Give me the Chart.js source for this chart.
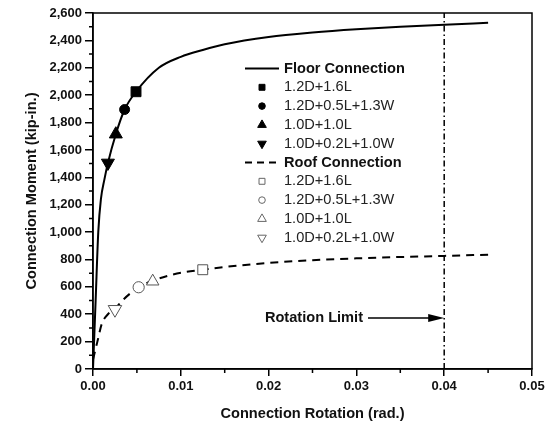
<!DOCTYPE html>
<html>
<head>
<meta charset="utf-8">
<script src="https://cdn.jsdelivr.net/npm/chart.js@4.4.0/dist/chart.umd.min.js"></script>
<style>
  html, body { margin: 0; padding: 0; background: #fff; }
  #wrap { width: 553px; height: 424px; }
</style>
</head>
<body>
<div id="wrap"><canvas id="canvas" width="553" height="424"></canvas></div>
<script>
// curves (rotation in rad., moment in kip-in.)
var floorRot = [0, 0.0003, 0.0006, 0.0009, 0.0013, 0.0017, 0.0026, 0.0036, 0.0049, 0.0075, 0.01, 0.0125, 0.015, 0.02, 0.025, 0.03, 0.035, 0.04, 0.045];
var floorMom = [0, 500, 1000, 1240, 1385, 1505, 1715, 1895, 2025, 2200, 2280, 2330, 2372, 2425, 2458, 2482, 2500, 2515, 2528];
var roofRot = [0, 0.0005, 0.001, 0.0017, 0.0025, 0.0035, 0.0052, 0.0068, 0.0085, 0.0105, 0.0125, 0.015, 0.02, 0.025, 0.03, 0.035, 0.04, 0.045];
var roofMom = [70, 200, 330, 400, 440, 510, 597, 645, 680, 708, 725, 745, 775, 795, 808, 818, 826, 835];

// load combinations (same order for floor and roof)
var comboLabels = ['1.2D+1.6L', '1.2D+0.5L+1.3W', '1.0D+1.0L', '1.0D+0.2L+1.0W'];
var floorPtRot = [0.0049, 0.0036, 0.0026, 0.0017];
var floorPtMom = [2025, 1895, 1715, 1505];
var roofPtRot = [0.0125, 0.0052, 0.0068, 0.0025];
var roofPtMom = [725, 597, 640, 435];

// rotation limit
var limitRot = [0.04, 0.04];
var limitMom = [0, 2600];
var arrowMom = 372;

var xTicks = [0, 0.01, 0.02, 0.03, 0.04, 0.05];
var yTicks = [0, 200, 400, 600, 800, 1000, 1200, 1400, 1600, 1800, 2000, 2200, 2400, 2600];

var FONT = '"Liberation Sans", Arial, sans-serif';
var markStyle = ['rect', 'circle', 'triangle', 'triangle'];
var markRot = [0, 0, 0, 180];
var floorRad = [7, 5, 7.5, 7.5];
var roofRad = [7, 5.6, 7.2, 7.8];
var legRad = [4.2, 3.3, 5, 5];

function pts(xs, ys) {
	return xs.map(function(x, i) { return { x: x, y: ys[i] }; });
}

var datasets = [
	{
		label: 'Floor Connection',
		data: pts(floorRot, floorMom),
		order: 3,
		showLine: true,
		borderColor: '#000',
		borderWidth: 2,
		pointRadius: 0,
		cubicInterpolationMode: 'monotone'
	},
	{
		label: 'Roof Connection',
		data: pts(roofRot, roofMom),
		order: 3,
		showLine: true,
		borderColor: '#000',
		borderWidth: 2,
		borderDash: [8, 6],
		pointRadius: 0,
		cubicInterpolationMode: 'monotone'
	},
	{
		label: 'Rotation Limit',
		data: pts(limitRot, limitMom),
		order: 2,
		showLine: true,
		borderColor: '#000',
		borderWidth: 1.5,
		borderDash: [6, 3, 1.5, 3],
		pointRadius: 0
	}
];

comboLabels.forEach(function(lab, i) {
	datasets.push({
		label: 'Floor ' + lab,
		data: [{ x: floorPtRot[i], y: floorPtMom[i] }],
		order: 1,
		pointStyle: markStyle[i],
		rotation: markRot[i],
		pointRadius: floorRad[i],
		backgroundColor: '#000',
		borderColor: '#000',
		borderWidth: 1
	});
	datasets.push({
		label: 'Roof ' + lab,
		data: [{ x: roofPtRot[i], y: roofPtMom[i] }],
		order: 1,
		pointStyle: markStyle[i],
		rotation: markRot[i],
		pointRadius: roofRad[i],
		backgroundColor: '#fff',
		borderColor: '#555',
		borderWidth: 1
	});
});

// box, minor ticks, legend and the arrow
var decor = {
	id: 'decor',
	afterDraw: function(chart) {
		var ctx = chart.ctx, a = chart.chartArea;
		var xs = chart.scales.x, ys = chart.scales.y;
		ctx.save();
		ctx.strokeStyle = '#000';
		ctx.lineWidth = 1.5;
		ctx.strokeRect(a.left, a.top, a.right - a.left, a.bottom - a.top);

		// minor ticks
		ctx.beginPath();
		for (var v = 100; v < 2600; v += 200) {
			var py = ys.getPixelForValue(v);
			ctx.moveTo(a.left - 4, py);
			ctx.lineTo(a.left, py);
		}
		for (var k = 0; k < 5; k++) {
			var px = xs.getPixelForValue(0.005 + k * 0.01);
			ctx.moveTo(px, a.bottom);
			ctx.lineTo(px, a.bottom + 4);
		}
		ctx.stroke();

		// legend
		var lx0 = 245, lx1 = 279, mx = 262, tx = 284, y0 = 68.5, rh = 18.8;
		ctx.textBaseline = 'middle';
		ctx.textAlign = 'left';
		ctx.fillStyle = '#111';
		ctx.lineWidth = 2;
		ctx.beginPath();
		ctx.moveTo(lx0, y0);
		ctx.lineTo(lx1, y0);
		ctx.stroke();
		ctx.font = 'bold 14.6px ' + FONT;
		ctx.fillText('Floor Connection', tx, y0);
		var yr = y0 + 5 * rh;
		ctx.setLineDash([7, 5]);
		ctx.beginPath();
		ctx.moveTo(lx0, yr);
		ctx.lineTo(lx1, yr);
		ctx.stroke();
		ctx.setLineDash([]);
		ctx.fillText('Roof Connection', tx, yr);

		ctx.font = '14.6px ' + FONT;
		comboLabels.forEach(function(lab, i) {
			var yf = y0 + (i + 1) * rh;
			ctx.fillStyle = '#000';
			ctx.strokeStyle = '#000';
			ctx.lineWidth = 1;
			Chart.helpers.drawPoint(ctx, { pointStyle: markStyle[i], rotation: markRot[i], radius: legRad[i], borderWidth: 1 }, mx, yf);
			ctx.fillStyle = '#222';
			ctx.fillText(lab, tx, yf);
			var yb = yr + (i + 1) * rh;
			ctx.fillStyle = '#fff';
			ctx.strokeStyle = '#666';
			Chart.helpers.drawPoint(ctx, { pointStyle: markStyle[i], rotation: markRot[i], radius: legRad[i], borderWidth: 1 }, mx, yb);
			ctx.fillStyle = '#222';
			ctx.fillText(lab, tx, yb);
		});

		// rotation limit arrow
		var tipX = xs.getPixelForValue(limitRot[0]);
		var ay = ys.getPixelForValue(arrowMom);
		ctx.strokeStyle = '#000';
		ctx.fillStyle = '#000';
		ctx.lineWidth = 1.5;
		ctx.beginPath();
		ctx.moveTo(368, ay);
		ctx.lineTo(tipX - 14, ay);
		ctx.stroke();
		ctx.beginPath();
		ctx.moveTo(tipX, ay);
		ctx.lineTo(tipX - 16, ay - 4);
		ctx.lineTo(tipX - 16, ay + 4);
		ctx.closePath();
		ctx.fill();
		ctx.font = 'bold 14.6px ' + FONT;
		ctx.textAlign = 'right';
		ctx.fillStyle = '#111';
		ctx.fillText('Rotation Limit', 363, ay);
		ctx.restore();
	}
};

var ctx = document.getElementById('canvas').getContext('2d');
window.myChart = new Chart(ctx, {
	type: 'scatter',
	data: { datasets: datasets },
	plugins: [decor],
	options: {
		responsive: false,
		animation: false,
		layout: { padding: { top: 13, right: 21, left: 0, bottom: 0 } },
		plugins: {
			legend: { display: false },
			tooltip: { enabled: false }
		},
		scales: {
			x: {
				type: 'linear',
				min: 0,
				max: 0.05,
				afterBuildTicks: function(s) { s.ticks = xTicks.map(function(v) { return { value: v }; }); },
				afterFit: function(s) { s.height = 55; },
				grid: { drawOnChartArea: false, color: '#000', lineWidth: 1.5, tickLength: 7 },
				border: { color: '#000', width: 1.5 },
				ticks: {
					color: '#111',
					padding: 3,
					maxRotation: 0,
					font: { family: FONT, size: 13, weight: 'bold' },
					callback: function(v) { return v.toFixed(2); }
				},
				title: {
					display: true,
					text: 'Connection Rotation (rad.)',
					color: '#111',
					padding: { top: 0, bottom: 1 },
					font: { family: FONT, size: 14.6, weight: 'bold' }
				}
			},
			y: {
				type: 'linear',
				min: 0,
				max: 2600,
				afterBuildTicks: function(s) { s.ticks = yTicks.map(function(v) { return { value: v }; }); },
				afterFit: function(s) { s.width = 93; },
				grid: { drawOnChartArea: false, color: '#000', lineWidth: 1.5, tickLength: 8 },
				border: { color: '#000', width: 1.5 },
				ticks: {
					color: '#111',
					padding: 3,
					font: { family: FONT, size: 13, weight: 'bold' },
					callback: function(v) { return v.toLocaleString('en-US'); }
				},
				title: {
					display: true,
					text: 'Connection Moment (kip-in.)',
					color: '#111',
					padding: { top: 23, bottom: 0 },
					font: { family: FONT, size: 14.6, weight: 'bold' }
				}
			}
		}
	}
});
</script>
</body>
</html>
